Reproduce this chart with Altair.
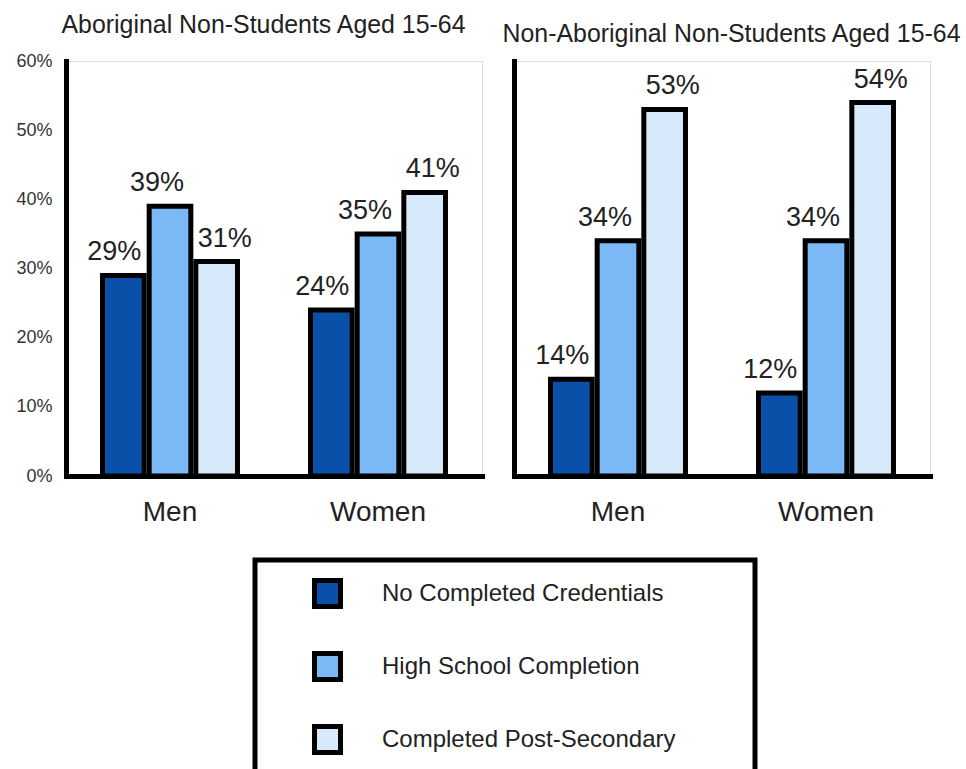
import altair as alt
import pandas as pd

# Categories
sexes = ["Men", "Women"]
levels = ["No Completed Credentials", "High School Completion", "Completed Post-Secondary"]
level_colors = ["#0A50A8", "#7AB8F6", "#D7EAFB"]

# Share of non-students aged 15-64 (%), values for Men, Women
aboriginal_none = [29, 24]
aboriginal_high_school = [39, 35]
aboriginal_post_secondary = [31, 41]

non_aboriginal_none = [14, 12]
non_aboriginal_high_school = [34, 34]
non_aboriginal_post_secondary = [53, 54]

y_ticks = [0, 10, 20, 30, 40, 50, 60]

# small horizontal nudge of the value labels, one per level
label_dx = [-9, -13, 8]

FONT = "Liberation Sans"
PLOT_W = 416
PLOT_H = 415
BLANK = "\u2800"  # blank glyph that widens the legend box on its right


def frame(series):
    rows = []
    for level, values in zip(levels, series):
        for sex, v in zip(sexes, values):
            rows.append({"sex": sex, "level": level, "value": v})
    return pd.DataFrame(rows)


aboriginal = frame([aboriginal_none, aboriginal_high_school, aboriginal_post_secondary])
non_aboriginal = frame([non_aboriginal_none, non_aboriginal_high_school, non_aboriginal_post_secondary])


def panel(df, title, title_dx, show_y_labels):
    x = alt.X(
        "sex:N", sort=sexes, title=None,
        scale=alt.Scale(paddingInner=0.351, paddingOuter=0.1755),
        axis=alt.Axis(labelAngle=0, labelFontSize=28, labelColor="#222", labelPadding=22,
                      ticks=False, tickSize=0, domainColor="black", domainWidth=5,
                      domainCap="square", labelFont=FONT),
    )
    xo = alt.XOffset("level:N", sort=levels,
                     scale=alt.Scale(domain=levels, paddingInner=0.107, paddingOuter=0))
    y = alt.Y(
        "value:Q", title=None,
        scale=alt.Scale(domain=[0, 60], nice=False),
        axis=alt.Axis(values=y_ticks, labelExpr="datum.value + '%'", labels=show_y_labels,
                      grid=False, ticks=False, tickSize=0, domainColor="black", domainWidth=5,
                      domainCap="square", labelFontSize=18, labelColor="#333",
                      labelPadding=14, labelFont=FONT),
    )
    color = alt.Color(
        "level:N", sort=levels,
        scale=alt.Scale(domain=levels, range=level_colors),
        legend=alt.Legend(
            orient="none", legendX=189, legendY=499,
            title=BLANK, titleOrient="right", titlePadding=55, titleFontSize=10,
            symbolType="square", symbolSize=676, symbolStrokeColor="black",
            symbolStrokeWidth=5, symbolOffset=39, labelOffset=39,
            labelFontSize=24, labelColor="#222", labelFont=FONT, labelLimit=800,
            rowPadding=26, padding=18, strokeColor="black",
        ),
    )
    base = alt.Chart(df)
    bars = base.mark_bar(stroke="black", strokeWidth=5).encode(x=x, xOffset=xo, y=y, color=color)
    texts = [
        base.transform_filter(alt.datum.level == lv)
        .transform_calculate(label="datum.value + '%'")
        .mark_text(fontSize=27, color="#222", font=FONT, dx=dx, dy=-15, baseline="alphabetic")
        .encode(x=x, xOffset=xo, y=y, text="label:N")
        for lv, dx in zip(levels, label_dx)
    ]
    return alt.layer(bars, *texts).properties(
        width=PLOT_W, height=PLOT_H,
        title=alt.TitleParams(title, fontSize=24.9, fontWeight="normal", color="#222",
                              font=FONT, offset=14, dx=title_dx),
    )


left = panel(aboriginal, "Aboriginal Non-Students Aged 15-64", -10.5, True)
right = panel(non_aboriginal, "Non-Aboriginal Non-Students Aged 15-64", 9.5, False)

chart = (
    alt.hconcat(left, right, spacing=18)
    .properties(padding={"left": 15, "top": 12, "right": 0, "bottom": 0})
    .configure_view(stroke=None)
    .configure(font=FONT, background="white")
)

# thick frame around the legend box
legend_frame = [
    {"op": "add", "path": "/legends/0/encode",
     "value": {"legend": {"update": {"strokeWidth": {"value": 5}}}}}
]

chart.save("out.html", embed_options={"renderer": "svg", "actions": False, "patch": legend_frame})
